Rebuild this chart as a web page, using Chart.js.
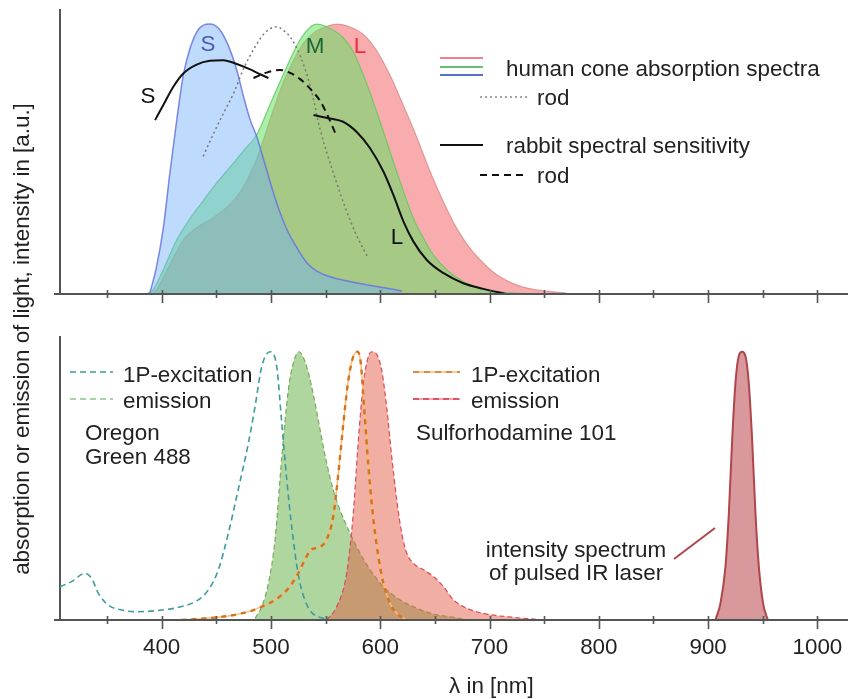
<!DOCTYPE html>
<html>
<head>
<meta charset="utf-8">
<title>Cone spectra and dye spectra</title>
<script src="https://cdn.jsdelivr.net/npm/chart.js@4.4.1/dist/chart.umd.min.js"></script>
<style>
  html, body { margin: 0; padding: 0; background: #fff; }
  #wrap { position: relative; width: 848px; height: 699px; }
  .layer { position: absolute; left: 0; top: 0; width: 848px; height: 699px; }
</style>
</head>
<body>
<div id="wrap">
  <div class="layer"><canvas id="bottomChart"></canvas></div>
  <div class="layer"><canvas id="topChart"></canvas></div>
</div>
<script>
// ---- data: [wavelength nm, relative value] ----
const tickNm = [350, 400, 450, 500, 550, 600, 650, 700, 750, 800, 850, 900, 950, 1000];

// human cone absorption spectra
const sCone = [[389, 0], [395, .095], [401.5, .243], [407.6, .45], [413.7, .64], [419.8, .81], [426, .91],
  [433.6, .98], [444, 1.0], [453, .98], [461, .92], [468.7, .83], [475, .73], [481, .645], [487, .583],
  [496, .46], [505, .34], [514.5, .24], [524, .17], [533, .115], [542, .085], [554, .064], [570, .048],
  [585, .036], [605, .022], [620, .011]];
const mCone = [[386, 0], [392, .015], [401.5, .09], [413.7, .2], [426, .28], [438, .345], [450, .41],
  [462.6, .47], [474.8, .53], [487, .59], [499, .70], [511, .81], [520, .89], [528, .95], [535, .985],
  [542, 1.0], [551, .99], [566, .95], [575, .9], [584.6, .81], [593.8, .71], [603, .6], [612, .49],
  [621.3, .38], [630.4, .28], [639.6, .206], [648.7, .144], [661, .089], [676, .046], [691.5, .021],
  [713, .006], [745, 0]];
const lCone = [[390, 0], [395, .015], [407.6, .11], [419.8, .2], [432, .245], [444, .275], [456.5, .31],
  [468.7, .36], [478, .42], [487, .5], [493, .57], [502, .68], [511, .78], [520, .86], [530, .93],
  [540, .97], [550, .99], [561, 1.0], [572, .99], [585, .96], [597, .9], [609, .81], [621, .7],
  [633.5, .58], [646, .45], [658, .34], [670, .243], [682, .17], [694.5, .114], [707, .07], [725, .033],
  [743, .015], [770, .004]];
const humanRod = [[438, .51], [447, .59], [456, .665], [466, .745], [475, .835], [484, .905], [494, .965],
  [505, .99], [512, .975], [518, .95], [527, .88], [536, .77], [545, .61], [557, .45], [569, .31],
  [578, .22], [588, .14]];

// rabbit spectral sensitivity
const rabbitS = [[394, .644], [401.5, .70], [410.7, .768], [419.8, .817], [432, .85], [444, .864],
  [456.5, .866], [468.7, .852], [481, .832], [490, .814], [497.7, .80]];
const rabbitRod = [[484, .80], [496, .82], [508, .83], [517, .82], [527, .795], [536, .76], [545, .715],
  [552, .66], [560, .585]];
const rabbitL = [[539, .663], [554, .65], [566, .638], [578.5, .60], [590.7, .54], [603, .453], [612, .367],
  [621.3, .268], [630.4, .194], [642.6, .126], [658, .077], [676, .04], [694.5, .019], [715, 0]];

// Oregon Green 488
const ogExcitation = [[307, .124], [317.6, .143], [329.8, .174], [336, .155], [342, .10], [351, .056],
  [363.4, .037], [378.6, .031], [400, .037], [418.3, .05], [433.6, .075], [442.7, .112], [451.9, .187],
  [461, .323], [470, .485], [479.4, .66], [485.5, .796], [491.6, .945], [499.2, 1.0], [505.3, .945],
  [509.9, .734], [514.5, .522], [519, .348], [525, .17], [531, .075], [538, .025], [549, .005]];
const ogEmission = [[485.5, .006], [491.6, .05], [497.7, .137], [503.8, .3], [510, .61], [516, .86],
  [520.6, .96], [525.5, 1.0], [532.7, .945], [538.8, .84], [545, .709], [551, .585], [557, .485],
  [563.2, .41], [572.4, .323], [581.5, .249], [590.7, .187], [603, .124], [618.2, .075], [633.4, .044],
  [648.7, .022], [667, .01], [680, 0]];

// Sulforhodamine 101
const srExcitation = [[418, 0], [439.7, .006], [461, .015], [479.4, .031], [491.6, .05], [503.8, .075],
  [516, .118], [525, .174], [531, .224], [536, .26], [541, .268], [546, .275], [551, .3], [557, .386],
  [561.7, .547], [566.3, .734], [570.9, .896], [575.4, .983], [579.1, 1.0], [582.2, .958], [585.2, .796],
  [589.2, .572], [593.8, .373], [598.3, .236], [602.9, .137], [609, .062], [615, .025], [624.3, 0]];
const srEmission = [[551, 0], [560.2, .05], [569.3, .174], [575.4, .4], [580, .672], [584.6, .883],
  [589.2, .983], [592.2, 1.0], [596.8, .99], [601.4, .93], [606, .79], [610.5, .61], [615.1, .448],
  [619.7, .323], [624.3, .249], [630.4, .211], [639.5, .187], [648.7, .162], [657.9, .124], [667, .075],
  [679.2, .044], [697.5, .022], [722, .01], [750, 0]];

// pulsed IR laser
const irLaser = [[906.7, 0], [911.3, .062], [915.9, .2], [919, .4], [922, .67], [925, .883], [928, .983],
  [931.1, 1.0], [934.2, .983], [937.2, .883], [940.3, .67], [943.3, .4], [946.4, .2], [950.3, .062],
  [954.6, 0]];

// ---- styling / layout ----
const X_MIN = 307, X_MAX = 1028;
const AXIS = '#555';
const TEXT = '#222';
const FONT = "22.4px 'Liberation Sans', Arial, sans-serif";

Chart.defaults.font.family = "'Liberation Sans', Arial, sans-serif";
Chart.defaults.font.size = 22.4;
Chart.defaults.color = TEXT;

function curve(pts, style) {
    return Object.assign({
        data: pts.map(([x, y]) => ({ x, y })),
        pointRadius: 0,
        borderWidth: 1.5,
        fill: false,
        cubicInterpolationMode: 'monotone'
    }, style);
}

function label(ctx, text, x, y, opt = {}) {
    ctx.save();
    ctx.font = FONT;
    ctx.fillStyle = opt.color || TEXT;
    ctx.textAlign = opt.align || 'left';
    ctx.textBaseline = opt.baseline || 'alphabetic';
    ctx.fillText(text, x, y);
    ctx.restore();
}

function keyLine(ctx, x1, x2, y, color, width, dash) {
    ctx.save();
    ctx.strokeStyle = color;
    ctx.lineWidth = width;
    ctx.setLineDash(dash || []);
    ctx.beginPath();
    ctx.moveTo(x1, y);
    ctx.lineTo(x2, y);
    ctx.stroke();
    ctx.restore();
}

// x axis line with ticks crossing it, drawn from the x scale
const axisTicks = {
    id: 'axisTicks',
    afterDraw(chart) {
        const { ctx, chartArea, scales: { x } } = chart;
        const yb = chartArea.bottom;
        ctx.save();
        ctx.strokeStyle = AXIS;
        ctx.lineWidth = 2;
        ctx.beginPath();
        ctx.moveTo(chartArea.left - 6, yb);
        ctx.lineTo(chartArea.right, yb);
        ctx.stroke();
        ctx.lineWidth = 1.6;
        ctx.beginPath();
        tickNm.forEach(v => {
            const px = Math.round(x.getPixelForValue(v)) + 0.5;
            ctx.moveTo(px, yb - 4);
            ctx.lineTo(px, yb + (v % 100 === 0 ? 9 : 4));
        });
        ctx.stroke();
        ctx.restore();
    }
};

function panelOptions(top, bottom, yMax, axisH) {
    return {
        responsive: true,
        maintainAspectRatio: false,
        animation: false,
        events: [],
        layout: { autoPadding: false, padding: { left: 60, right: 0, top: top, bottom: 699 - bottom - axisH } },
        plugins: { legend: { display: false }, tooltip: { enabled: false } },
        scales: {
            x: {
                type: 'linear',
                min: X_MIN,
                max: X_MAX,
                afterBuildTicks: s => { s.ticks = tickNm.map(v => ({ value: v })); },
                afterFit: s => {
                    s.height = axisH;
                    s.paddingLeft = 0;
                    s.paddingRight = 0;
                },
                grid: { display: false, drawTicks: false },
                border: { display: false },
                ticks: {
                    display: axisH > 0,
                    autoSkip: false,
                    maxRotation: 0,
                    padding: 14,
                    color: TEXT,
                    callback: v => (v % 100 === 0 ? String(v) : '')
                }
            },
            y: {
                min: 0,
                max: yMax,
                afterFit: s => { s.width = 0; },
                grid: { display: false, drawTicks: false },
                border: { display: true, color: AXIS, width: 2 },
                ticks: { display: false }
            }
        }
    };
}

// ---- top panel: cone spectra ----
const topMarks = [
    { text: 'S', nm: 442.4, v: .922, color: '#4a5cb0' },
    { text: 'M', nm: 540.4, v: .915, color: '#17693a' },
    { text: 'L', nm: 581.5, v: .915, color: '#e8303c' },
    { text: 'S', nm: 387.5, v: .73, color: '#111' },
    { text: 'L', nm: 615.4, v: .207, color: '#111' }
];

const topDecor = {
    id: 'topDecor',
    afterDatasetsDraw(chart) {
        const { ctx, scales: { x, y } } = chart;
        topMarks.forEach(m => label(ctx, m.text, x.getPixelForValue(m.nm), y.getPixelForValue(m.v),
            { color: m.color, align: 'center', baseline: 'middle' }));

        keyLine(ctx, 440, 483, 58, '#ef7f8a', 2);
        keyLine(ctx, 440, 483, 67, '#66bf72', 2);
        keyLine(ctx, 440, 483, 75, '#5472c4', 2);
        label(ctx, 'human cone absorption spectra', 506, 76);
        keyLine(ctx, 480, 527, 97, '#888', 1.5, [2, 3]);
        label(ctx, 'rod', 537, 105);
        keyLine(ctx, 440, 483, 145, '#111', 2);
        label(ctx, 'rabbit spectral sensitivity', 506, 153);
        keyLine(ctx, 480, 527, 175, '#111', 2, [7, 5]);
        label(ctx, 'rod', 537, 183);
    }
};

new Chart(document.getElementById('topChart'), {
    type: 'line',
    data: {
        datasets: [
            curve(rabbitS, { borderColor: '#111', borderWidth: 2 }),
            curve(rabbitL, { borderColor: '#111', borderWidth: 2 }),
            curve(rabbitRod, { borderColor: '#111', borderWidth: 2, borderDash: [7, 5] }),
            curve(humanRod, { borderColor: '#777', borderWidth: 1.5, borderDash: [2, 3] }),
            curve(sCone, { fill: 'origin', backgroundColor: 'rgba(110,175,250,0.45)', borderColor: 'rgba(105,115,225,0.85)' }),
            curve(mCone, { fill: 'origin', backgroundColor: 'rgba(100,225,100,0.55)', borderColor: 'rgba(95,200,95,0.8)', borderWidth: 1.2 }),
            curve(lCone, { fill: 'origin', backgroundColor: 'rgba(240,70,75,0.45)', borderColor: 'rgba(205,115,115,0.6)', borderWidth: 1.2 })
        ]
    },
    options: panelOptions(10, 294, 1.052, 0),
    plugins: [axisTicks, topDecor]
});

// ---- bottom panel: dyes and laser ----
const bottomDecor = {
    id: 'bottomDecor',
    afterDatasetsDraw(chart) {
        const { ctx } = chart;
        keyLine(ctx, 70, 113, 372, '#3d9a9f', 1.6, [6, 4]);
        label(ctx, '1P-excitation', 123, 382);
        keyLine(ctx, 70, 113, 399, '#86c886', 1.6, [6, 4]);
        label(ctx, 'emission', 123, 408);
        label(ctx, 'Oregon', 85, 440);
        label(ctx, 'Green 488', 85, 464);

        keyLine(ctx, 413, 460, 372, '#f8bb78', 1.6);
        keyLine(ctx, 413, 460, 372, '#d5741c', 1.6, [6, 5]);
        label(ctx, '1P-excitation', 471, 382);
        keyLine(ctx, 413, 460, 399, '#ef8a95', 1.6);
        keyLine(ctx, 413, 460, 399, '#d83a50', 1.4, [6, 4]);
        label(ctx, 'emission', 471, 408);
        label(ctx, 'Sulforhodamine 101', 416, 440);

        label(ctx, 'intensity spectrum', 576, 557, { align: 'center' });
        label(ctx, 'of pulsed IR laser', 576, 580, { align: 'center' });
        ctx.save();
        ctx.strokeStyle = '#b0454c';
        ctx.lineWidth = 2;
        ctx.beginPath();
        ctx.moveTo(674, 559);
        ctx.lineTo(715, 528);
        ctx.stroke();
        ctx.restore();

        label(ctx, 'λ in [nm]', 449, 693);

        ctx.save();
        ctx.translate(23, 339);
        ctx.rotate(-Math.PI / 2);
        label(ctx, 'absorption or emission of light, intensity in [a.u.]', 0, 0, { align: 'center', baseline: 'middle' });
        ctx.restore();
    }
};

new Chart(document.getElementById('bottomChart'), {
    type: 'line',
    data: {
        datasets: [
            curve(srExcitation, { borderColor: '#d5741c', borderWidth: 2.4, borderDash: [5, 5] }),
            curve(srExcitation, { borderColor: '#f8bb78', borderWidth: 1.4 }),
            curve(ogExcitation, { borderColor: '#3d9a9f', borderWidth: 1.6, borderDash: [6, 4] }),
            curve(srEmission, { fill: 'origin', backgroundColor: 'rgba(225,95,70,0.5)', borderColor: '#e0485a', borderWidth: 1.2, borderDash: [5, 3] }),
            curve(ogEmission, { fill: 'origin', backgroundColor: 'rgba(110,180,80,0.55)', borderColor: '#78aa5a', borderWidth: 1.2, borderDash: [5, 3] }),
            curve(irLaser, { fill: 'origin', backgroundColor: 'rgba(185,70,75,0.55)', borderColor: '#b0454c', borderWidth: 2 })
        ]
    },
    options: panelOptions(337, 620, 1.055, 50),
    plugins: [axisTicks, bottomDecor]
});
</script>
</body>
</html>
